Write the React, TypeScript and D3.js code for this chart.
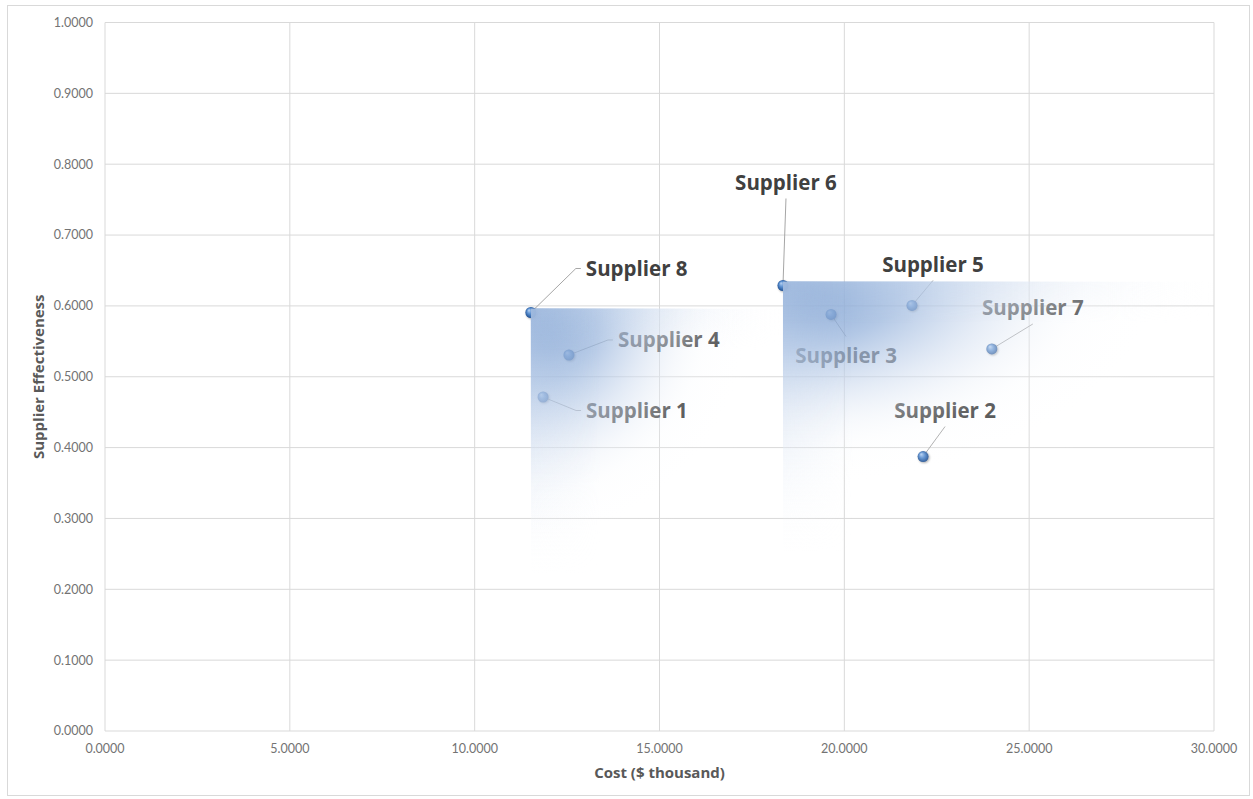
import React from "react";
import * as d3 from "d3";

// Supplier cost vs. effectiveness
const suppliers = ["Supplier 1", "Supplier 2", "Supplier 3", "Supplier 4", "Supplier 5", "Supplier 6", "Supplier 7", "Supplier 8"];
const costs = [11.85, 22.13, 19.64, 12.55, 21.83, 18.34, 23.99, 11.52];
const effectiveness = [0.4714, 0.3874, 0.5879, 0.5307, 0.6006, 0.6288, 0.5392, 0.5907];

// Shaded dominance regions (corner supplier -> right edge cost, bottom effectiveness)
const regionCorners = ["Supplier 8", "Supplier 6"];
const regionRightCost = [18.34, 30];
const regionBottom = [0.22, 0.3];
const regionFringeBottom = [0.22, 0.25];

const xTicks = [0, 5, 10, 15, 20, 25, 30];
const yTicks = [0, 0.1, 0.2, 0.3, 0.4, 0.5, 0.6, 0.7, 0.8, 0.9, 1.0];

// Label placement relative to each marker (pixels)
const labelLayout: Record<string, { dx: number; dy: number; anchor: "start" | "middle"; side?: "above" | "below" }> = {
  "Supplier 1": { dx: 43, dy: 13.5, anchor: "start" },
  "Supplier 2": { dx: 22, dy: -46, anchor: "middle", side: "above" },
  "Supplier 3": { dx: 15, dy: 41, anchor: "middle", side: "below" },
  "Supplier 4": { dx: 49, dy: -15, anchor: "start" },
  "Supplier 5": { dx: 21, dy: -41, anchor: "middle", side: "above" },
  "Supplier 6": { dx: 3, dy: -103, anchor: "middle", side: "above" },
  "Supplier 7": { dx: 41, dy: -41, anchor: "middle", side: "above" },
  "Supplier 8": { dx: 55, dy: -44, anchor: "start" },
};

const W = 1253;
const H = 799;
const margin = { left: 105, right: 1214, top: 22.5, bottom: 731 };
const tickFont = "Lato, 'Open Sans', sans-serif";
const boldFont = "'Open Sans', Lato, sans-serif";

export default function App() {
  const x = d3.scaleLinear().domain([0, 30]).range([margin.left, margin.right]);
  const y = d3.scaleLinear().domain([0, 1]).range([margin.bottom, margin.top]);
  const fmt = d3.format(".4f");

  const points = suppliers.map((name, i) => ({ name, px: x(costs[i]), py: y(effectiveness[i]) }));
  const byName = (n: string) => points[suppliers.indexOf(n)];

  const regions = regionCorners.map((n, i) => {
    const p = byName(n);
    const top = p.py - 4;
    return {
      x0: p.px,
      y0: top,
      x1: x(regionRightCost[i]),
      y1: y(regionBottom[i]),
      yf: y(regionFringeBottom[i]),
    };
  });

  const leaders = points.map((p) => {
    const l = labelLayout[p.name];
    const tx = p.px + l.dx;
    const ty = p.py + l.dy;
    let path: [number, number][];
    if (l.anchor === "start") {
      path = [[p.px, p.py], [tx - 10, ty], [tx - 5, ty]];
    } else if (l.side === "below") {
      path = [[p.px, p.py], [tx, ty - 19]];
    } else {
      path = [[p.px, p.py], [tx, ty + 16]];
    }
    return { name: p.name, tx, ty, anchor: l.anchor, d: d3.line()(path) as string };
  });

  const topBand = 42;
  const leftBand = 70;

  return (
    <svg width={W} height={H} style={{ position: "absolute", left: 0, top: 0, background: "#fff" }}>
      <defs>
        <radialGradient id="sphere" cx="50%" cy="50%" r="55%" fx="32%" fy="28%">
          <stop offset="0%" stopColor="#b9d3f3" />
          <stop offset="45%" stopColor="#5a8fd0" />
          <stop offset="85%" stopColor="#2b5c9e" />
          <stop offset="100%" stopColor="#1d4379" />
        </radialGradient>
        <radialGradient id="regionFill" gradientUnits="objectBoundingBox" cx="0" cy="0" r="1" fx="0" fy="0">
          <stop offset="0%" stopColor="#5a86c4" stopOpacity={0.88} />
          <stop offset="28%" stopColor="#96b3dc" stopOpacity={0.72} />
          <stop offset="48%" stopColor="#cfdcef" stopOpacity={0.55} />
          <stop offset="60%" stopColor="#e8eef7" stopOpacity={0.38} />
          <stop offset="70%" stopColor="#f5f8fc" stopOpacity={0.18} />
          <stop offset="86%" stopColor="#ffffff" stopOpacity={0.07} />
          <stop offset="100%" stopColor="#ffffff" stopOpacity={0} />
        </radialGradient>
        {/* soft fringes along the top edge and the left edge of each region */}
        <linearGradient id="fringeH" x1="0" y1="0" x2="1" y2="0">
          <stop offset="0%" stopColor="#b7cbe7" stopOpacity={0.5} />
          <stop offset="55%" stopColor="#dbe5f3" stopOpacity={0.35} />
          <stop offset="100%" stopColor="#f3f6fb" stopOpacity={0} />
        </linearGradient>
        <linearGradient id="fringeV" x1="0" y1="0" x2="0" y2="1">
          <stop offset="0%" stopColor="#b7cbe7" stopOpacity={0.5} />
          <stop offset="60%" stopColor="#dbe5f3" stopOpacity={0.32} />
          <stop offset="100%" stopColor="#f3f6fb" stopOpacity={0} />
        </linearGradient>
        <linearGradient id="maskDown" x1="0" y1="0" x2="0" y2="1">
          <stop offset="0%" stopColor="#fff" />
          <stop offset="100%" stopColor="#000" />
        </linearGradient>
        <linearGradient id="maskRight" x1="0" y1="0" x2="1" y2="0">
          <stop offset="0%" stopColor="#fff" />
          <stop offset="100%" stopColor="#000" />
        </linearGradient>
        {regions.map((r, i) => (
          <React.Fragment key={"mk" + i}>
            <mask id={`topMask${i}`} maskUnits="userSpaceOnUse" x={r.x0} y={r.y0} width={r.x1 - r.x0} height={topBand}>
              <rect x={r.x0} y={r.y0} width={r.x1 - r.x0} height={topBand} fill="url(#maskDown)" />
            </mask>
            <mask id={`leftMask${i}`} maskUnits="userSpaceOnUse" x={r.x0} y={r.y0} width={leftBand} height={r.yf - r.y0}>
              <rect x={r.x0} y={r.y0} width={leftBand} height={r.yf - r.y0} fill="url(#maskRight)" />
            </mask>
          </React.Fragment>
        ))}
        <filter id="shadow" x="-50%" y="-50%" width="200%" height="200%">
          <feGaussianBlur in="SourceAlpha" stdDeviation="0.8" />
          <feOffset dx="0.8" dy="1.2" result="b" />
          <feComponentTransfer><feFuncA type="linear" slope="0.35" /></feComponentTransfer>
          <feMerge><feMergeNode /><feMergeNode in="SourceGraphic" /></feMerge>
        </filter>
      </defs>

      {/* chart frame */}
      <rect x={7.5} y={5.5} width={1242} height={790} fill="#fff" stroke="#d9d9d9" strokeWidth={1} />

      {/* gridlines */}
      <g stroke="#d9d9d9" strokeWidth={1}>
        {xTicks.map((t) => (
          <line key={"gx" + t} x1={x(t)} x2={x(t)} y1={margin.top} y2={margin.bottom} />
        ))}
        {yTicks.map((t) => (
          <line key={"gy" + t} x1={margin.left} x2={margin.right} y1={y(t)} y2={y(t)} />
        ))}
      </g>

      {/* tick labels */}
      <g fontFamily={tickFont} fontSize={12.5} fill="#737373">
        {yTicks.map((t) => (
          <text key={"ty" + t} x={margin.left - 12} y={y(t)} dy="0.35em" textAnchor="end">{fmt(t)}</text>
        ))}
        {xTicks.map((t) => (
          <text key={"tx" + t} x={x(t)} y={margin.bottom + 18} dy="0.35em" textAnchor="middle">{fmt(t)}</text>
        ))}
      </g>

      {/* axis titles */}
      <text x={(margin.left + margin.right) / 2} y={773} dy="0.35em" textAnchor="middle" fontFamily={boldFont} fontWeight={700} fontSize={15} fill="#595959">
        Cost ($ thousand)
      </text>
      <text transform={`translate(39,${(margin.top + margin.bottom) / 2}) rotate(-90)`} dy="0.35em" textAnchor="middle" fontFamily={boldFont} fontWeight={700} fontSize={15} fill="#595959">
        Supplier Effectiveness
      </text>

      {/* leader lines */}
      <g stroke="#a6a6a6" strokeWidth={1} fill="none">
        {leaders.map((l) => <path key={"ld" + l.name} d={l.d} />)}
      </g>

      {/* markers */}
      <g filter="url(#shadow)">
        {points.map((p) => (
          <circle key={"pt" + p.name} cx={p.px} cy={p.py} r={5.5} fill="url(#sphere)" />
        ))}
      </g>

      {/* data labels */}
      <g fontFamily={boldFont} fontWeight={700} fontSize={20.5} fill="#404040">
        {leaders.map((l) => (
          <text key={"lb" + l.name} x={l.tx} y={l.ty} dy="0.35em" textAnchor={l.anchor}>{l.name}</text>
        ))}
      </g>

      {/* shaded regions */}
      {regions.map((r, i) => (
        <g key={"rg" + i}>
          <rect x={r.x0} y={r.y0} width={r.x1 - r.x0} height={r.y1 - r.y0} fill="url(#regionFill)" />
          <rect x={r.x0} y={r.y0} width={r.x1 - r.x0} height={topBand} fill="url(#fringeH)" mask={`url(#topMask${i})`} />
          <rect x={r.x0} y={r.y0} width={leftBand} height={r.yf - r.y0} fill="url(#fringeV)" mask={`url(#leftMask${i})`} />
        </g>
      ))}
    </svg>
  );
}
